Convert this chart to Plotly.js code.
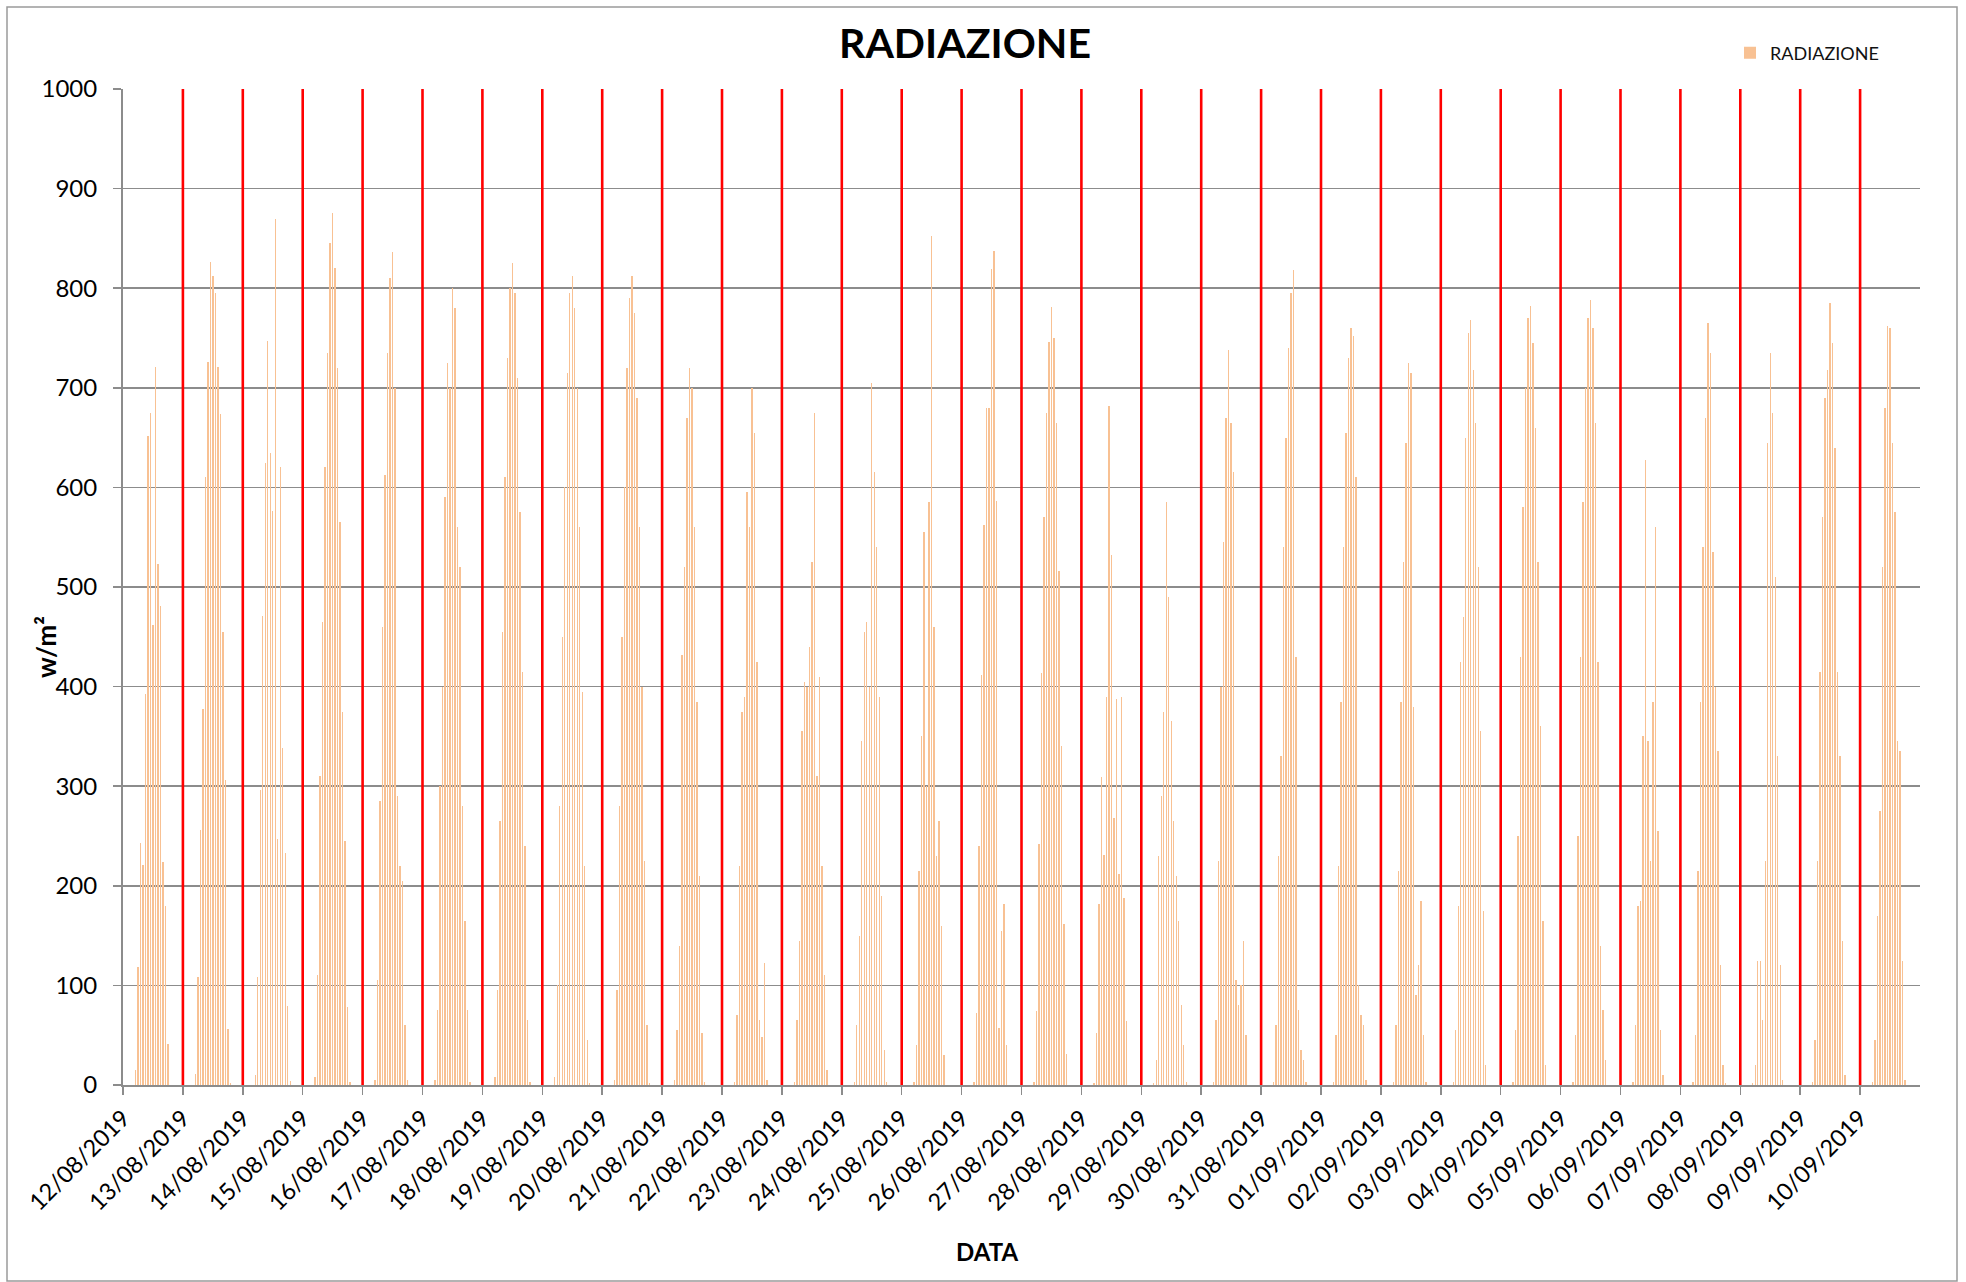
<!DOCTYPE html>
<html>
<head>
<meta charset="utf-8">
<script src="https://cdn.plot.ly/plotly-3.0.1.min.js"></script>
<style>
html,body{margin:0;padding:0;background:#fff;}
#chart{width:1966px;height:1282px;}
</style>
</head>
<body>
<div id="chart"></div>
<script>
// ---- DATA ----
const dayDates = ["2019-08-12","2019-08-13","2019-08-14","2019-08-15","2019-08-16","2019-08-17","2019-08-18","2019-08-19","2019-08-20","2019-08-21",
  "2019-08-22","2019-08-23","2019-08-24","2019-08-25","2019-08-26","2019-08-27","2019-08-28","2019-08-29","2019-08-30","2019-08-31",
  "2019-09-01","2019-09-02","2019-09-03","2019-09-04","2019-09-05","2019-09-06","2019-09-07","2019-09-08","2019-09-09","2019-09-10"];
const dayLabels = ["12/08/2019","13/08/2019","14/08/2019","15/08/2019","16/08/2019","17/08/2019","18/08/2019","19/08/2019","20/08/2019","21/08/2019",
  "22/08/2019","23/08/2019","24/08/2019","25/08/2019","26/08/2019","27/08/2019","28/08/2019","29/08/2019","30/08/2019","31/08/2019",
  "01/09/2019","02/09/2019","03/09/2019","04/09/2019","05/09/2019","06/09/2019","07/09/2019","08/09/2019","09/09/2019","10/09/2019"];
// hourly readings, hours 05..19
const hours = [5,6,7,8,9,10,11,12,13,14,15,16,17,18,19];
const r_12_08 = [15,118,243,221,393,652,675,462,721,523,481,224,180,41,0];
const r_13_08 = [11,108,256,378,610,726,826,812,795,721,674,455,306,56,2];
const r_14_08 = [10,108,296,471,625,747,635,576,869,247,620,338,233,79,4];
const r_15_08 = [8,110,310,465,620,735,845,876,820,720,565,375,245,78,3];
const r_16_08 = [5,105,285,460,612,735,810,836,700,290,220,205,60,5,0];
const r_17_08 = [5,75,300,400,590,725,700,800,780,560,520,280,165,75,3];
const r_18_08 = [8,95,265,455,610,730,800,825,795,710,575,415,240,65,3];
const r_19_08 = [8,100,280,450,600,715,795,812,780,700,560,395,220,45,2];
const r_20_08 = [5,95,280,450,600,720,790,812,775,690,560,400,225,60,2];
const r_21_08 = [5,55,140,432,520,670,720,700,560,385,210,52,3,0,0];
const r_22_08 = [3,70,220,375,390,595,560,700,655,425,65,48,122,5,0];
const r_23_08 = [3,65,145,355,405,400,440,525,675,310,410,220,110,15,0];
const r_24_08 = [3,60,150,345,455,465,400,705,615,540,390,190,35,3,0];
const r_25_08 = [3,40,215,350,555,300,585,852,460,230,265,160,30,0,0];
const r_26_08 = [3,72,240,412,562,680,680,819,837,586,57,155,182,40,0];
const r_27_08 = [3,74,242,414,570,675,746,781,750,665,516,340,162,31,0];
const r_28_08 = [2,52,182,309,231,390,682,532,268,388,212,390,188,64,0];
const r_29_08 = [2,25,230,290,375,585,490,365,265,210,165,80,40,3,0];
const r_30_08 = [3,65,225,400,545,670,738,665,615,105,80,100,145,50,0];
const r_31_08 = [3,60,230,330,540,650,740,795,818,430,75,35,25,3,0];
const r_01_09 = [3,50,220,385,540,655,730,760,752,610,100,70,60,5,0];
const r_02_09 = [3,60,215,385,525,645,725,715,380,90,120,185,50,3,0];
const r_03_09 = [3,55,180,425,470,650,755,768,718,665,520,355,175,20,0];
const r_04_09 = [3,55,250,430,580,700,770,782,745,660,525,360,165,20,0];
const r_05_09 = [3,50,250,430,585,700,770,788,760,665,425,140,75,25,0];
const r_06_09 = [3,60,180,185,350,628,345,225,385,560,255,55,10,0,0];
const r_07_09 = [3,50,215,385,540,670,765,735,535,400,335,120,20,2,0];
const r_08_09 = [2,20,125,125,65,225,645,735,675,510,330,120,5,0,0];
const r_09_09 = [3,45,225,415,570,690,718,785,745,640,415,330,145,10,0];
const r_10_09 = [3,45,170,275,520,680,762,760,645,575,345,335,125,5,0];
const dailySeries = [r_12_08,r_13_08,r_14_08,r_15_08,r_16_08,r_17_08,r_18_08,r_19_08,r_20_08,r_21_08,
  r_22_08,r_23_08,r_24_08,r_25_08,r_26_08,r_27_08,r_28_08,r_29_08,r_30_08,r_31_08,
  r_01_09,r_02_09,r_03_09,r_04_09,r_05_09,r_06_09,r_07_09,r_08_09,r_09_09,r_10_09];
const seriesName = "RADIAZIONE";
const yMax = 1000;

// ---- BUILD ----
const pad = n => (n < 10 ? "0" : "") + n;
const bx = [], by = [];
dailySeries.forEach((vals, i) => {
  vals.forEach((v, j) => {
    bx.push(dayDates[i] + " " + pad(hours[j]) + ":00");
    by.push(v);
  });
});
// day separators (red)
const sx = [], sy = [];
dayDates.slice(1).forEach(d => { sx.push(d, d, null); sy.push(0, yMax, null); });

const W = 1966, H = 1282;
const L = 123, R = 1920, T = 89, B = 1085;
const pw = R - L, ph = B - T;
const px = x => (x - L) / pw;
const py = y => (B - y) / ph;

const grey = "#8c8c8c";
const font = "Lato, 'Open Sans', sans-serif";

const data = [
  {
    type: "bar", name: seriesName, x: bx, y: by,
    width: 0.55 * 3600000,
    marker: { color: "#F8C193", line: { width: 0 } },
    hoverinfo: "skip"
  },
  {
    type: "scatter", mode: "lines", x: sx, y: sy,
    line: { color: "#FF0000", width: 2.6 },
    showlegend: false, hoverinfo: "skip", connectgaps: false
  }
];

const layout = {
  width: W, height: H,
  paper_bgcolor: "#ffffff", plot_bgcolor: "#ffffff",
  margin: { l: L, r: W - R, t: T, b: H - B, pad: 0 },
  font: { family: font, color: "#000" },
  title: {
    text: "<b>RADIAZIONE</b>",
    font: { family: font, size: 41, color: "#000" },
    xref: "container", yref: "container",
    x: 965 / W, xanchor: "center", y: 1 - 44 / H, yanchor: "middle"
  },
  showlegend: true,
  legend: {
    x: px(1730), xanchor: "left", y: py(53), yanchor: "middle",
    font: { family: font, size: 18, color: "#111" },
    bgcolor: "rgba(0,0,0,0)", borderwidth: 0
  },
  bargap: 0,
  xaxis: {
    type: "date",
    range: [dayDates[0] + " 00:00", "2019-09-11 00:00"],
    tickmode: "array", tickvals: dayDates, ticktext: dayLabels,
    tickangle: -45,
    tickfont: { family: font, size: 23.5, color: "#000" },
    ticks: "outside", ticklen: 8, tickwidth: 1.5, tickcolor: grey,
    showgrid: false, showline: true, linecolor: grey, linewidth: 2,
    zeroline: false, fixedrange: true
  },
  yaxis: {
    range: [0, yMax], dtick: 100, tick0: 0,
    tickfont: { family: font, size: 24, color: "#000" },
    ticks: "outside", ticklen: 8, tickwidth: 1.5, tickcolor: grey,
    ticklabelstandoff: 11,
    showgrid: true, gridcolor: grey, gridwidth: 1.5,
    showline: true, linecolor: grey, linewidth: 2,
    zeroline: false, fixedrange: true
  },
  annotations: [
    { text: "<b>w/m²</b>", xref: "paper", yref: "paper", x: px(46), y: py(647),
      textangle: -90, showarrow: false, xanchor: "center", yanchor: "middle",
      font: { family: font, size: 26, color: "#000" } },
    { text: "<b>DATA</b>", xref: "paper", yref: "paper", x: px(987), y: py(1251),
      showarrow: false, xanchor: "center", yanchor: "middle",
      font: { family: font, size: 24, color: "#000" } }
  ],
  shapes: [
    { type: "rect", xref: "paper", yref: "paper",
      x0: px(7), x1: px(1957), y0: py(1281), y1: py(7),
      line: { color: "#9a9a9a", width: 1.5 }, fillcolor: "rgba(0,0,0,0)", layer: "below" }
  ]
};

Plotly.newPlot("chart", data, layout, { staticPlot: true, displayModeBar: false });
</script>
</body>
</html>
